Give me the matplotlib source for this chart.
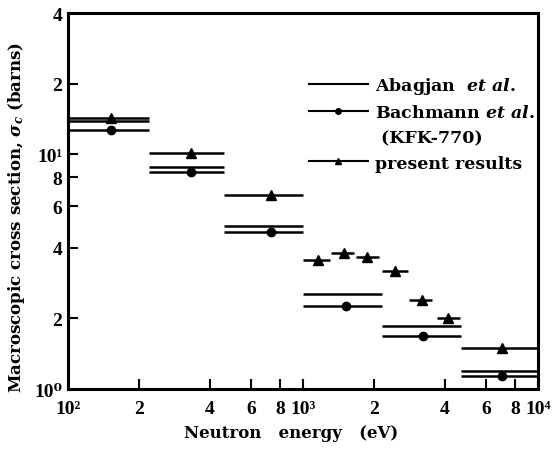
import numpy as np
import matplotlib
matplotlib.use("Agg")
import matplotlib.pyplot as plt
from matplotlib.lines import Line2D
from matplotlib.ticker import FixedLocator, FixedFormatter, NullLocator

plt.rcParams['font.family'] = ['Liberation Serif', 'DejaVu Serif']
plt.rcParams['font.weight'] = 'bold'
plt.rcParams['axes.labelweight'] = 'bold'
plt.rcParams['mathtext.fontset'] = 'custom'
plt.rcParams['mathtext.rm'] = 'DejaVu Serif:bold'
plt.rcParams['mathtext.it'] = 'DejaVu Serif:italic:bold'
plt.rcParams['mathtext.bf'] = 'DejaVu Serif:bold'

# group boundaries (eV)
group_edges = [100, 222, 462, 1000, 2160, 4700, 10000]

# Abagjan et al. group constants
abagjan = [13.9, 8.83, 4.96, 2.55, 1.85, 1.19]

# Bachmann et al. (KFK-770)
bachmann = [12.7, 8.41, 4.68, 2.25, 1.68, 1.14]
bachmann_e = [152, 333, 731, 1524, 3240, 6990]

# present results, finer bins above 1 keV
present_lo = [100, 222, 462, 1000, 1320, 1680, 2160, 2820, 3700, 4700]
present_hi = [222, 462, 1000, 1300, 1650, 2100, 2800, 3550, 4650, 10000]
present_e = [152, 333, 731, 1160, 1494, 1870, 2460, 3210, 4140, 7030]
present = [14.3, 10.1, 6.72, 3.56, 3.81, 3.67, 3.17, 2.39, 2.00, 1.49]

# axis ticks and their labels
x_ticks = [100, 200, 400, 600, 800, 1000, 2000, 4000, 6000, 8000, 10000]
x_labels = ['10²', '2', '4', '6', '8', '10³', '2', '4', '6', '8', '10⁴']
y_ticks = [1, 2, 4, 6, 8, 10, 20, 40]
y_labels = ['10⁰', '2', '4', '6', '8', '10¹', '2', '4']

fig = plt.figure(figsize=(5.53, 4.52), dpi=100)
ax = fig.add_axes([0.123, 0.137, 0.850, 0.832])

lw = 1.8
ax.hlines(abagjan, group_edges[:-1], group_edges[1:], color='black', lw=lw)
ax.hlines(bachmann, group_edges[:-1], group_edges[1:], color='black', lw=lw)
ax.plot(bachmann_e, bachmann, 'o', color='black', ms=6)
ax.hlines(present, present_lo, present_hi, color='black', lw=lw)
ax.plot(present_e, present, '^', color='black', ms=6.5)

ax.set_xscale('log')
ax.set_yscale('log')
ax.set_xlim(100, 10000)
ax.set_ylim(1, 40)

ax.xaxis.set_major_locator(FixedLocator(x_ticks))
ax.xaxis.set_major_formatter(FixedFormatter(x_labels))
ax.xaxis.set_minor_locator(NullLocator())
ax.yaxis.set_major_locator(FixedLocator(y_ticks))
ax.yaxis.set_major_formatter(FixedFormatter(y_labels))
ax.yaxis.set_minor_locator(NullLocator())

ax.tick_params(axis='both', which='major', direction='in', length=7, width=1.5,
               labelsize=14, top=False, right=False)
ax.tick_params(axis='x', which='major', pad=8)
ax.tick_params(axis='y', which='major', pad=4)

for sp in ax.spines.values():
    sp.set_linewidth(2.2)

ax.set_xlabel('Neutron   energy   (eV)', fontsize=12, family='DejaVu Serif')
ax.set_ylabel(r'Macroscopic cross section, $\sigma_c$ (barns)', fontsize=12,
              family='DejaVu Serif')
ax.xaxis.set_label_coords(0.474, -0.093)
ax.yaxis.set_label_coords(-0.087, 0.46)

handles = [
    Line2D([], [], color='black', lw=1.5),
    Line2D([], [], color='black', lw=1.5, marker='o', ms=4),
    Line2D([], [], color='none'),
    Line2D([], [], color='black', lw=1.5, marker='^', ms=4.5),
]
labels = [
    r'Abagjan  $et\ al.$',
    r'Bachmann $et\ al.$',
    r' (KFK-770)',
    'present results',
]
ax.legend(handles, labels, loc='upper left', bbox_to_anchor=(0.512, 0.835),
          frameon=False, handlelength=3.4, handletextpad=0.4,
          labelspacing=0.47, borderpad=0, borderaxespad=0,
          prop={'family': 'DejaVu Serif', 'weight': 'bold', 'size': 12.5})

fig.savefig('out.png', dpi=100)
